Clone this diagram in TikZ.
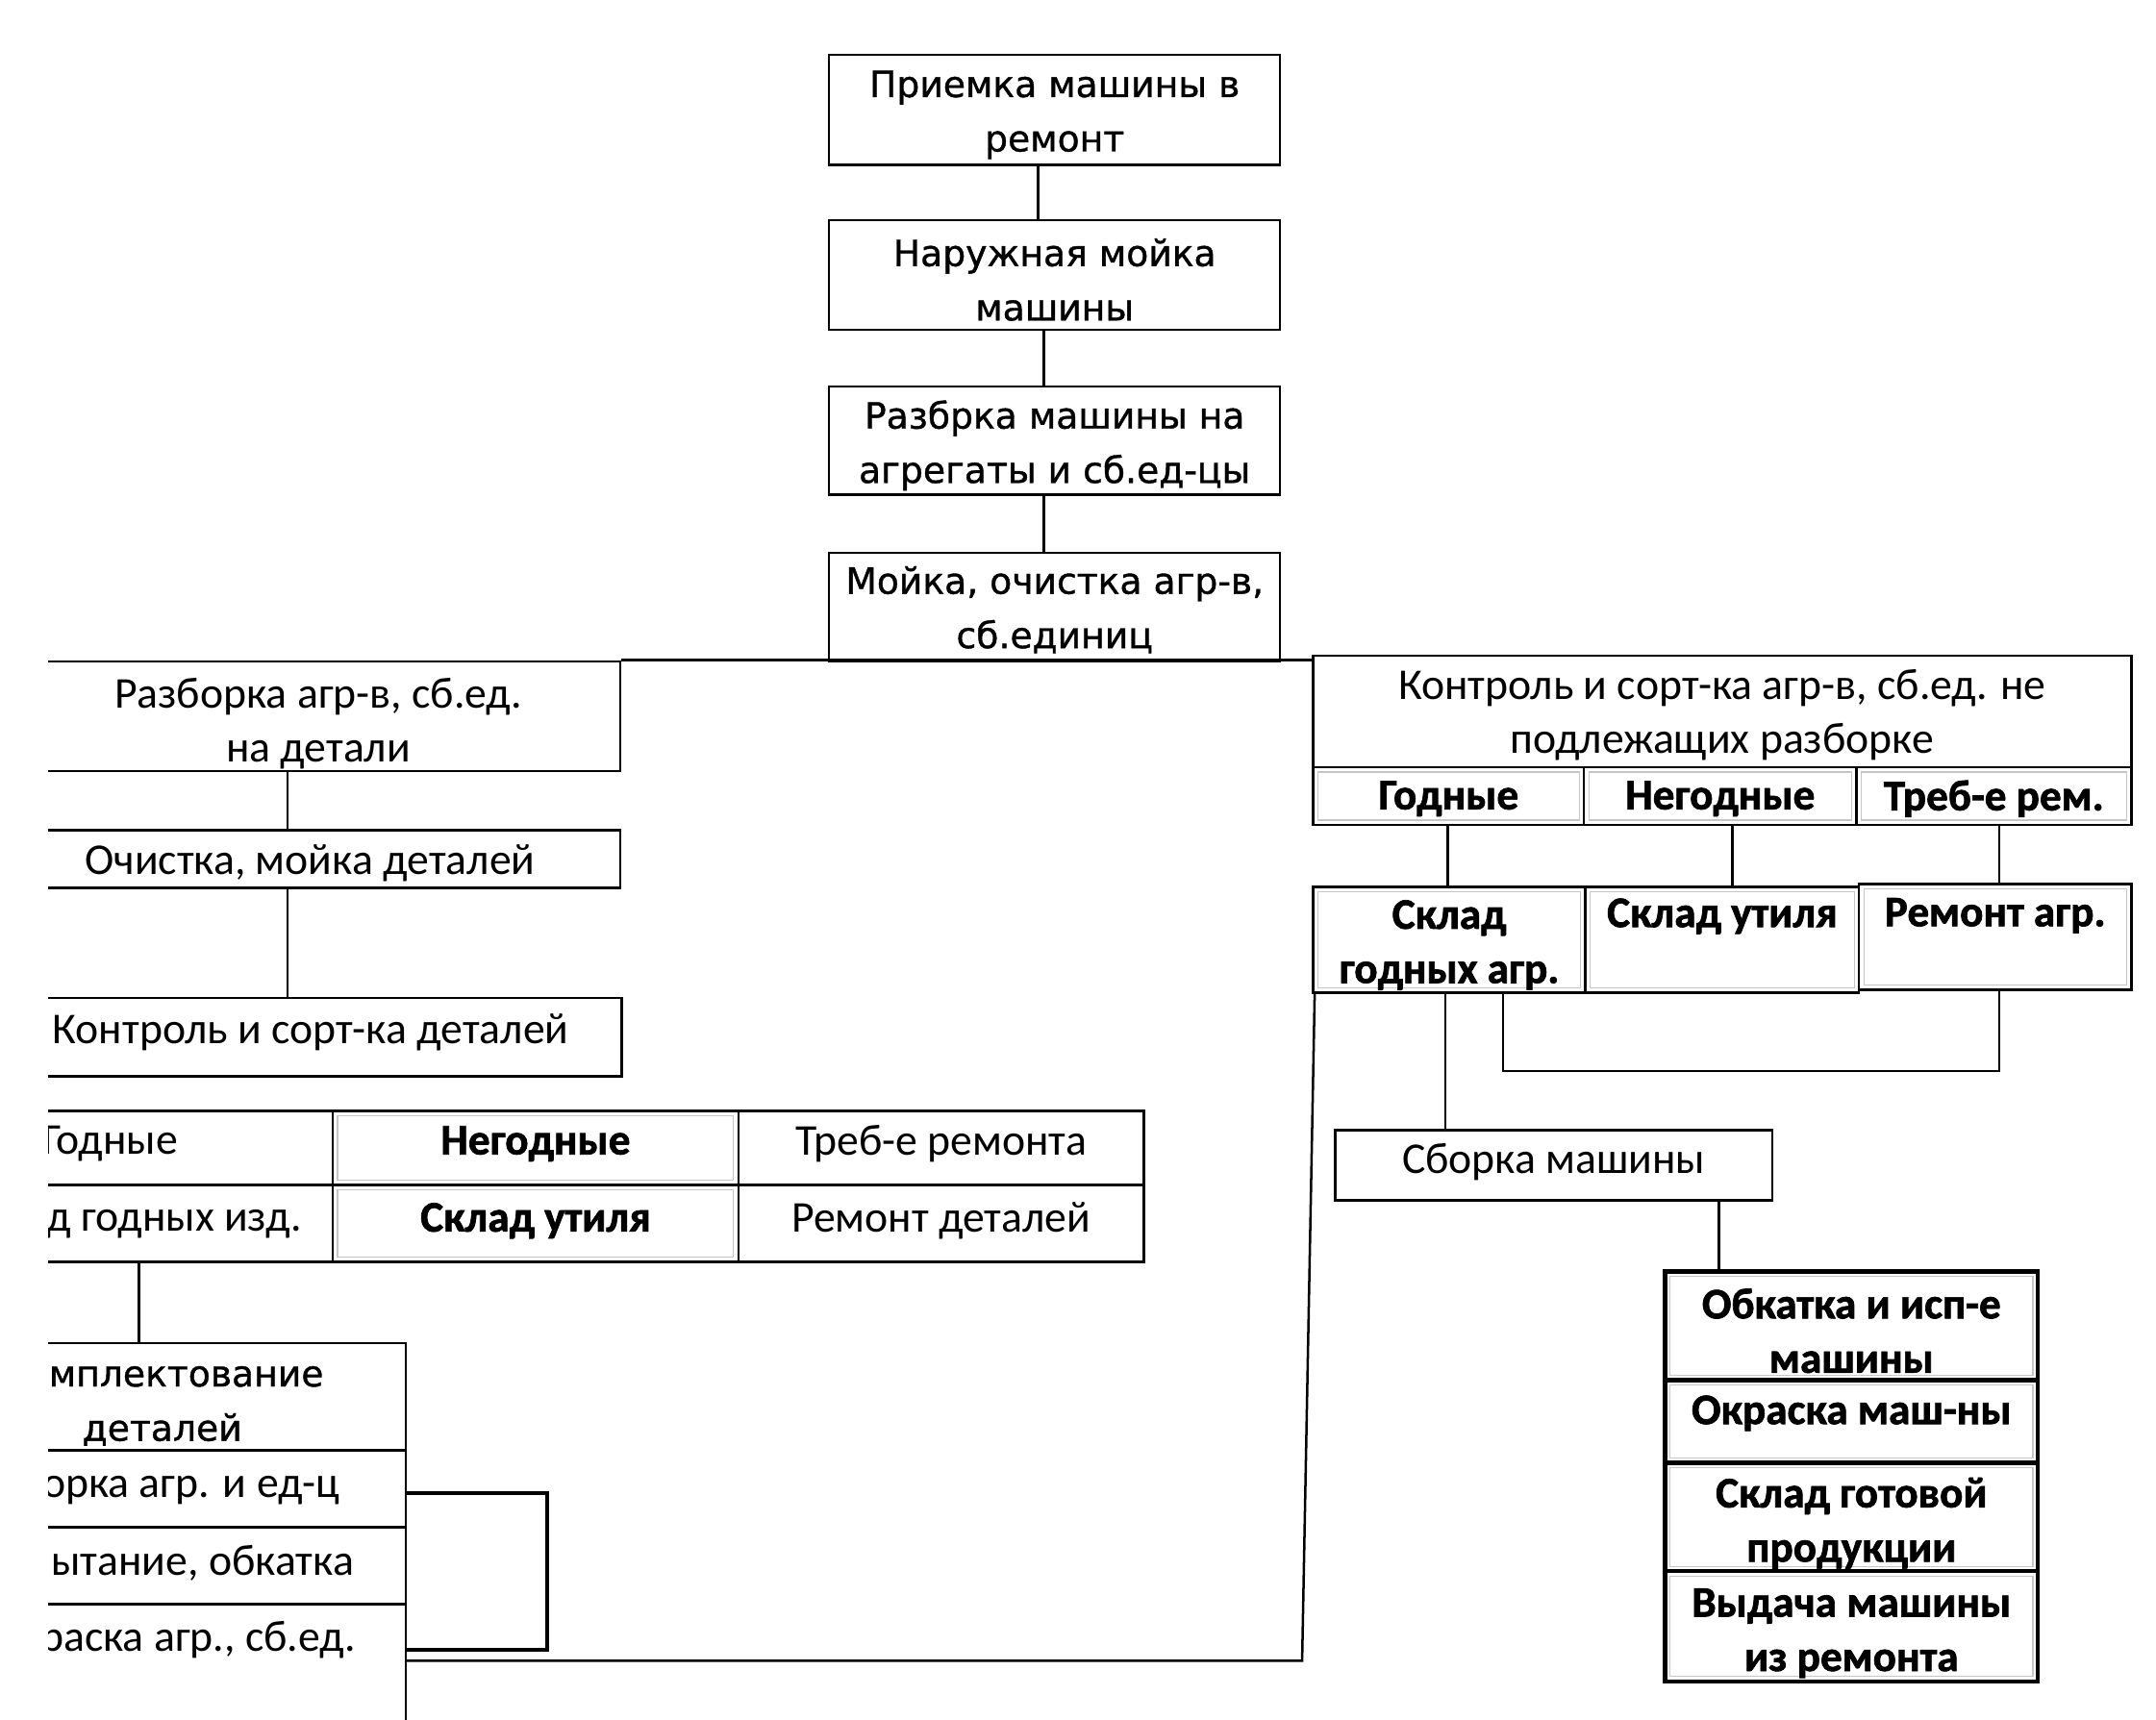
\documentclass[tikz,border=0pt]{standalone}
\usepackage{fontspec}
\setmainfont{Carlito}[BoldFeatures={FakeBold=1.5}]
\newfontfamily\vfont[FakeBold=1]{DejaVu Sans}
\usetikzlibrary{fit,calc}
\tikzset{
  cell/.style={draw, line width=1pt, inner sep=0pt},
  cell text/.style={inner sep=0pt, align=center, font=\fontsize{18.2}{22.5}\selectfont},
  vcell/.style={cell},
  vcell text/.style={cell text, font=\vfont\fontsize{15}{22.5}\selectfont},
  scan/.style={path picture={\draw[gray!45, line width=.5pt] ([shift={(2pt,-2pt)}]path picture bounding box.north west) rectangle ([shift={(-2pt,2pt)}]path picture bounding box.south east);}},
  bcell/.style={cell, scan},
  bcell text/.style={cell text, font=\bfseries\fontsize{18}{22.5}\selectfont},
  scell/.style={bcell, line width=1.7pt},
  scell text/.style={bcell text},
  thk/.style={line width=1.7pt},
  conn/.style={line width=1pt},
}
% #1 kind, #2 name, #3 corners, #4 text offset, #5 text
\newcommand\cellbox[5]{\node[#1, fit={#3}] (#2) {};\node[#1 text] (#2t) at ($(#2.center)+#4$) {#5};}
\begin{document}
\begin{tikzpicture}[x=0.02cm, y=-0.02cm]
\useasboundingbox (0,0) rectangle (1568,1251);
\begin{scope}
\clip (35,0) rectangle (1568,1251);
% top chain
\cellbox{vcell}{b1}{(603,40) (931,120)}{(0,3.5)}{Приемка машины в\\ремонт}
\cellbox{vcell}{b2}{(603,160) (931,240)}{(0,3.5)}{Наружная мойка\\машины}
\cellbox{vcell}{b3}{(603,281) (931,360)}{(0,3.5)}{Разбрка машины на\\агрегаты и сб.ед-цы}
\cellbox{vcell}{b4}{(603,402) (931,481)}{(0,2)}{Мойка, очистка агр-в,\\сб.единиц}
% left branch
\cellbox{cell}{razb}{(0,481) (451,561)}{(6,5.5)}{Разборка агр-в, сб.ед.\\на детали}
\cellbox{cell}{och}{(0,604) (451,646)}{(0,3)}{Очистка, мойка деталей}
\cellbox{cell}{kd}{(0,726) (452,783)}{(0,-3.5)}{Контроль и сорт-ка деталей}
\cellbox{cell}{t11}{(-58,808) (242,862)}{(-12,-3)}{Годные}
\cellbox{bcell}{t12}{(242,808) (537,862)}{(0,-3)}{Негодные}
\cellbox{cell}{t13}{(537,808) (832,862)}{(0,-3)}{Треб-е ремонта}
\cellbox{cell}{t21}{(-58,862) (242,918)}{(3,-2)}{Склад годных изд.}
\cellbox{bcell}{t22}{(242,862) (537,918)}{(0,-2)}{Склад утиля}
\cellbox{cell}{t23}{(537,862) (832,918)}{(0,-2)}{Ремонт деталей}
\cellbox{vcell}{kom}{(-51,977) (295,1055)}{(-4,4.5)}{Комплектование\\деталей}
\cellbox{cell}{sbag}{(-51,1055) (295,1111)}{(0,-2)}{Сборка агр. и ед-ц}
\cellbox{cell}{isp}{(-51,1111) (295,1167)}{(0,-2)}{Испытание, обкатка}
\cellbox{cell}{okrag}{(-51,1167) (295,1300)}{(4,-40.5)}{Окраска агр., сб.ед.}
% right branch
\cellbox{cell}{kagr}{(955,477) (1550,558)}{(0,2.5)}{Контроль и сорт-ка агр-в, сб.ед. не\\подлежащих разборке}
\cellbox{bcell}{god}{(955,558) (1152,600)}{(0,2)}{Годные}
\cellbox{bcell}{neg}{(1152,558) (1350,600)}{(0,2)}{Негодные}
\cellbox{bcell}{treb}{(1350,558) (1550,600)}{(0,2)}{Треб-е рем.}
\cellbox{bcell}{sgod}{(955,645) (1153,722)}{(0,4)}{Склад\\годных агр.}
\cellbox{bcell}{sut}{(1153,645) (1352,722)}{(0,-17)}{Склад утиля}
\cellbox{bcell}{rag}{(1352,643) (1550,720)}{(0,-15.5)}{Ремонт агр.}
\cellbox{cell}{sbm}{(971,822) (1289,873)}{(0,-2.5)}{Сборка машины}
\cellbox{scell}{stk1}{(1211,925) (1482,1004)}{(0,3.5)}{Обкатка и исп-е\\машины}
\cellbox{scell}{stk2}{(1211,1004) (1482,1064)}{(0,-6)}{Окраска маш-ны}
\cellbox{scell}{stk3}{(1211,1064) (1482,1143)}{(0,4.5)}{Склад готовой\\продукции}
\cellbox{scell}{stk4}{(1211,1143) (1482,1223)}{(0,5)}{Выдача машины\\из ремонта}
% connectors
\draw[conn] (b1.south -| 755,0) -- (b2.north -| 755,0);
\draw[conn] (b2.south -| 759,0) -- (b3.north -| 759,0);
\draw[conn] (b3.south -| 759,0) -- (b4.north -| 759,0);
\draw[conn] (razb.north east) -- (razb.north east -| kagr.west);
\draw[conn] (razb.south -| 209,0) -- (och.north -| 209,0);
\draw[conn] (och.south -| 209,0) -- (kd.north -| 209,0);
\draw[conn] (t21.south -| 101,0) -- (kom.north -| 101,0);
\draw[conn] (god.south -| 1053,0) -- (sgod.north -| 1053,0);
\draw[conn] (neg.south -| 1260,0) -- (sut.north -| 1260,0);
\draw[conn] (treb.south -| 1454,0) -- (rag.north -| 1454,0);
\coordinate (br) at (1454,779);
\draw[conn] (sgod.south -| 1093,0) |- (br) -- (rag.south -| br);
\draw[conn] (sgod.south -| 1051,0) -- (sbm.north -| 1051,0);
\draw[conn] (sbm.south -| 1250,0) -- (stk1.north -| 1250,0);
\coordinate (lc) at (947,1208);
\draw[conn] ($(sgod.south west)+(2,0)$) -- (lc) -- (lc -| okrag.east);
\coordinate (la) at (398,1086);
\coordinate (lb) at (398,1200);
\draw[thk] (la -| sbag.east) -- (la) -- (lb) -- (lb -| okrag.east);
\end{scope}
\end{tikzpicture}
\end{document}
